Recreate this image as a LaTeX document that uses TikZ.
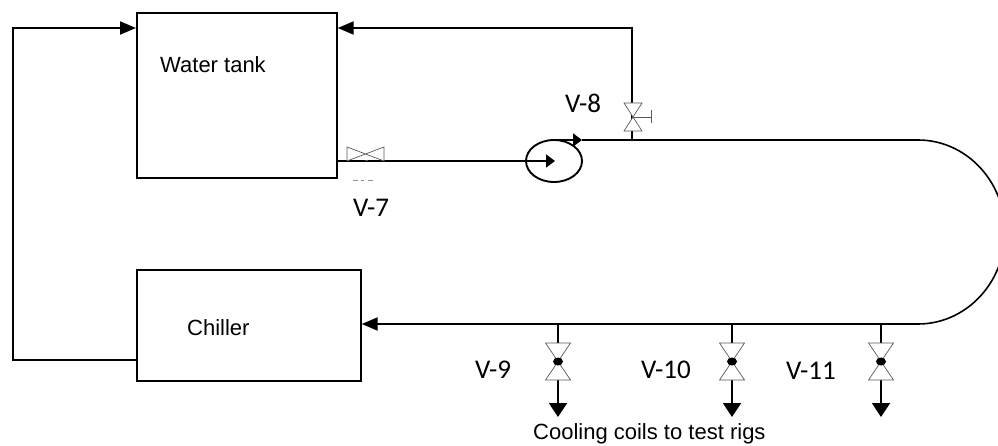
\documentclass[tikz,border=0pt]{standalone}
\usepackage{fontspec}
\setmainfont{Liberation Sans}
\newfontfamily\vfont{Carlito}
\usetikzlibrary{arrows.meta}
\tikzset{
  box/.style={draw=black,line width=1.7pt,minimum width=0pt},
  pipe/.style={draw=black,line width=1.9pt},
  flow/.style={pipe,-{Triangle[length=16pt,width=13pt]}},
  pumpflow/.style={pipe,-{Triangle[length=9pt,width=13pt]}},
  drop/.style={pipe,-{Triangle[length=14pt,width=18pt]}},
  valveline/.style={draw=black!65,line width=0.7pt,fill=white},
  lab/.style={font=\fontsize{22}{26}\selectfont,inner sep=0pt},
  vlab/.style={font=\vfont\fontsize{27}{32}\selectfont,inner sep=0pt}
}
\begin{document}
\begin{tikzpicture}[x=1pt,y=-1pt]
\useasboundingbox (0,0) rectangle (998,446);
\fill[white] (0,0) rectangle (998,446);
% vessels
\node[box,minimum width=200pt,minimum height=165pt,inner sep=0pt,anchor=north west] (tank) at (136,12) {};
\node[lab,anchor=west] (tanklab) at (160,65) {Water tank};
\node[box,minimum width=224pt,minimum height=111pt,inner sep=0pt,anchor=north west] (chiller) at (136,269) {};
\node[lab,anchor=west] (chillab) at (187,328) {Chiller};
% named points
\coordinate (tankL) at (tank.north west |- 0,28);
\coordinate (tankR) at (tank.north east |- 0,28);
\coordinate (tankO) at (tank.south east |- 0,161);
\coordinate (chillL) at (chiller.north west |- 0,360);
\coordinate (chillR) at (chiller.north east |- 0,324);
\coordinate (c1) at (13,360);
\coordinate (c2) at (13,28);
\coordinate (c3) at (632,28);
\coordinate (v8) at (632,117);
\coordinate (j8) at (632,140);
\coordinate (v7) at (366,154);
\coordinate (pumpIn) at (555,161);
\coordinate (pumpOut) at (553,140);
\coordinate (pumpTip) at (582,140);
\coordinate (arcA) at (918,140);
\coordinate (arcB) at (918,324);
\coordinate (v9) at (558,361.5);
\coordinate (v10) at (732,361.5);
\coordinate (v11) at (881,361.5);
\coordinate (j9) at (558,324);
\coordinate (j10) at (732,324);
\coordinate (j11) at (881,324);
\coordinate (e9) at (558,417);
\coordinate (e10) at (732,417);
\coordinate (e11) at (881,417);
% recirculation
\draw[flow] (chillL) -- (c1) -- (c2) -- (tankL);
\draw[flow] (j8) -- (c3) -- (tankR);
% feed line
\draw[pumpflow] (tankO) -- (pumpIn);
\draw[pipe] (554,161) ellipse [x radius=28,y radius=21];
\draw[pumpflow] (pumpOut) -- (pumpTip);
\draw[pipe] (pumpTip) -- (arcA);
\begin{scope}
\clip (0,0) rectangle (998,446);
\draw[pipe,line width=1.6pt] (arcA) arc [start angle=-90,end angle=90,x radius=87,y radius=92];
\end{scope}
\draw[flow] (arcB) -- (chillR);
% drops
\draw[drop] (j9) -- (e9);
\draw[drop] (j10) -- (e10);
\draw[drop] (j11) -- (e11);
% V-7
\draw[valveline] (347,147) -- (384,161) -- (384,147) -- (347,161) -- cycle;
\fill[black!70] (364.5,160) rectangle (367.5,161);
\fill[black!45] (353,180.5) rectangle (358,181.5);
\fill[black!45] (361,180.5) rectangle (364,181.5);
\fill[black!45] (368,180.5) rectangle (373,181.5);
% V-8
\draw[valveline] (624,103) -- (642,131) -- (624,131) -- (642,103) -- cycle;
\draw[black!65,line width=0.7pt] (v8) -- (651,117) (651,110) -- (651,123);
% V-9..V-11
\foreach \v in {v9,v10,v11}{
  \draw[valveline] ([shift={(-12.5,-18.5)}]\v) -- ([shift={(12.5,18.5)}]\v) -- ([shift={(-12.5,18.5)}]\v) -- ([shift={(12.5,-18.5)}]\v) -- cycle;
  \fill[black] (\v) ellipse [x radius=5,y radius=4];
}
% labels
\node[vlab,anchor=west] (l7) at (353,208) {V-7};
\node[vlab,anchor=west] (l8) at (565,103) {V-8};
\node[vlab,anchor=west] (l9) at (475,370) {V-9};
\node[vlab,anchor=west] (l10) at (641,370) {V-10};
\node[vlab,anchor=west] (l11) at (786,371) {V-11};
\node[lab,anchor=west] (coil) at (533,434) {Cooling coils to test rigs};
\end{tikzpicture}
\end{document}
